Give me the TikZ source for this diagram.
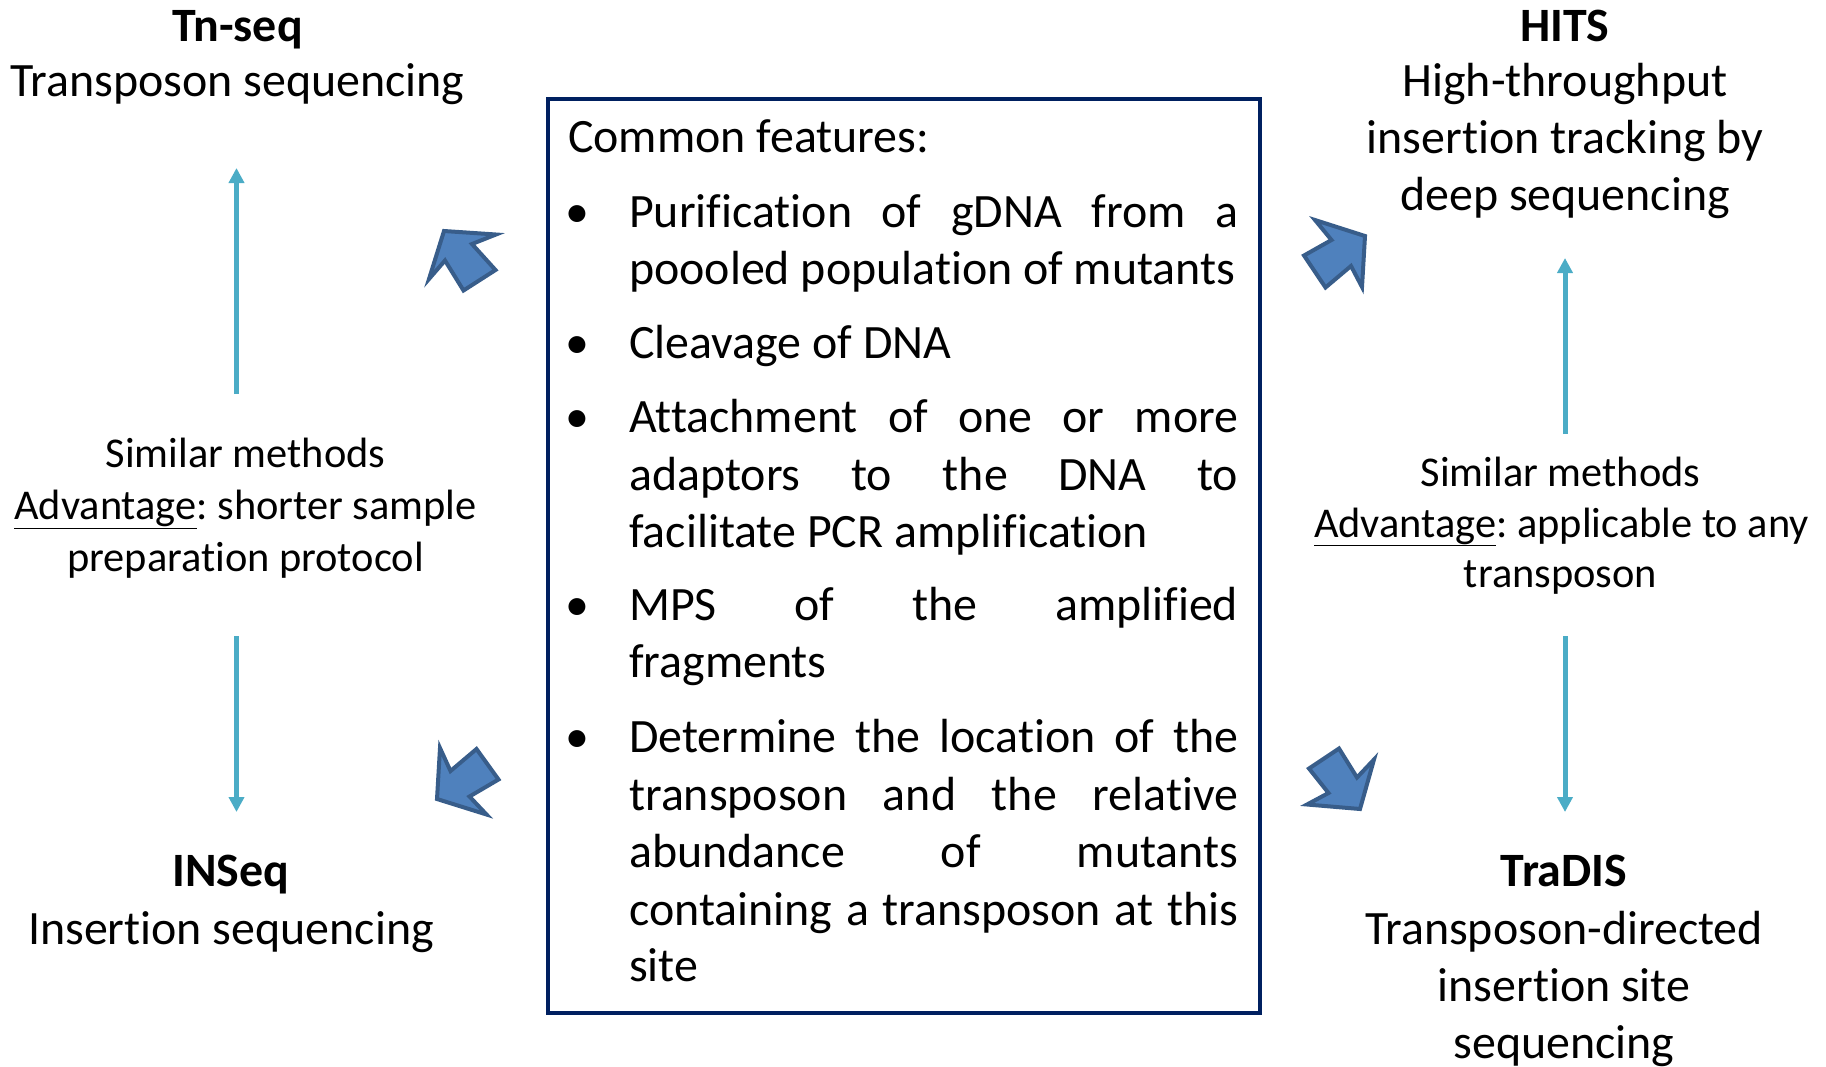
\documentclass[tikz,border=0pt]{standalone}
\usepackage{fontspec}
\setmainfont[Ligatures=NoCommon]{Carlito}
\usetikzlibrary{arrows.meta}
\definecolor{boxblue}{RGB}{0,32,96}
\definecolor{thinblue}{RGB}{75,172,198}
\definecolor{blockfill}{RGB}{79,129,189}
\definecolor{blockedge}{RGB}{56,93,138}
\frenchspacing
\begin{document}
\begin{tikzpicture}[x=1pt,y=-1pt,
  big/.style={font=\fontsize{47.9}{57}\selectfont, inner sep=0pt, anchor=base},
  bigb/.style={font=\fontsize{47.9}{57}\selectfont\bfseries, inner sep=0pt, anchor=base},
  side/.style={font=\fontsize{42.4}{51}\selectfont, inner sep=0pt, anchor=base},
  boxline/.style={font=\fontsize{47.9}{57}\selectfont, inner sep=0pt, anchor=base west},
  bul/.style={font=\fontsize{47.9}{57}\selectfont, inner sep=0pt, anchor=base},
  thin/.style={draw=thinblue, line width=5pt, -{Triangle[width=15pt,length=15pt]}},
  block/.style={draw=blockedge, fill=blockfill, line width=4pt, line join=miter}]
\useasboundingbox (0,0) rectangle (1826,1066);

% central box
\draw[boxblue, line width=4pt] (548,99) rectangle (1260,1013);
\newcommand{\jl}[1]{\makebox[609pt][s]{#1}}
\node[boxline] (cf) at (568,152) {Common features:};
\node[bul] (b1) at (577,227) {•};
\node[boxline] (l1) at (629,227) {\jl{Purification of gDNA from a}};
\node[boxline] (l2) at (629,284) {poooled population of mutants};
\node[bul] (b2) at (577,358.5) {•};
\node[boxline] (l3) at (629,358.5) {Cleavage of DNA};
\node[bul] (b3) at (577,432) {•};
\node[boxline] (l4) at (629,432) {\jl{Attachment of one or more}};
\node[boxline] (l5) at (629,490) {\jl{adaptors to the DNA to}};
\node[boxline] (l6) at (629,547) {facilitate PCR amplification};
\node[bul] (b4) at (577,620.5) {•};
\node[boxline] (l7) at (629,620.5) {\jl{MPS of the amplified}};
\node[boxline] (l8) at (629,677.5) {fragments};
\node[bul] (b5) at (577,752) {•};
\node[boxline] (l9) at (629,752) {\jl{Determine the location of the}};
\node[boxline] (l10) at (629,810) {\jl{transposon and the relative}};
\node[boxline] (l11) at (629,867) {\jl{abundance of mutants}};
\node[boxline] (l12) at (629,925.5) {\jl{containing a transposon at this}};
\node[boxline] (l13) at (629,981.5) {site};

% Tn-seq
\node[bigb] (tn1) at (237.5,41) {Tn-seq};
\node[big] (tn2) at (237.5,96.5) {Transposon sequencing};
% HITS
\node[bigb] (hi1) at (1565,41) {HITS};
\node[big] (hi2) at (1565,96.5) {High-throughput};
\node[big] (hi3) at (1565,153.5) {insertion tracking by};
\node[big] (hi4) at (1565,210.5) {deep sequencing};
% INSeq
\node[bigb] (in1) at (231,886) {INSeq};
\node[big] (in2) at (231,944) {Insertion sequencing};
% TraDIS
\node[bigb] (tr1) at (1564,886) {TraDIS};
\node[big] (tr2) at (1564,944) {Transposon-directed};
\node[big] (tr3) at (1564,1001) {insertion site};
\node[big] (tr4) at (1564,1058) {sequencing};

% side texts
\node[side] (sl1) at (245.5,467) {Similar methods};
\node[side] (sl2) at (245.5,519.5) {\underline{Advantage}: shorter sample};
\node[side] (sl3) at (245.5,571) {preparation protocol};
\node[side] (sr1) at (1560.5,486) {Similar methods};
\node[side] (sr2) at (1561.5,537) {\underline{Advantage}: applicable to any};
\node[side] (sr3) at (1560.5,587) {transposon};

% thin arrows
\coordinate (a1s) at (236.5,394);
\coordinate (a1e) at (236.5,168);
\coordinate (a2s) at (236.5,636);
\coordinate (a2e) at (236.5,812);
\coordinate (a3s) at (1565,434);
\coordinate (a3e) at (1565,258);
\coordinate (a4s) at (1565,636);
\coordinate (a4e) at (1565,812);
\draw[thin] (a1s) -- (a1e);
\draw[thin] (a2s) -- (a2e);
\draw[thin] (a3s) -- (a3e);
\draw[thin] (a4s) -- (a4e);

% block arrows
\draw[block] (444,231) -- (496,234.5) -- (472,244) -- (495.5,270) -- (463.5,290.5) -- (445,260.5) -- (429,279) -- cycle;
\draw[block] (1365,236) -- (1315,220) -- (1331.5,240) -- (1304,255.5) -- (1325.5,287.5) -- (1351,266) -- (1362,287) -- cycle;
\draw[block] (437,799) -- (440,748) -- (450.5,771) -- (476.5,749) -- (498.5,779.5) -- (469.5,796.5) -- (486.5,814.5) -- cycle;
\draw[block] (1360,809) -- (1307,804.5) -- (1328.5,793) -- (1309,768.5) -- (1339,748.5) -- (1357,777.5) -- (1374,759.5) -- cycle;
\end{tikzpicture}
\end{document}
